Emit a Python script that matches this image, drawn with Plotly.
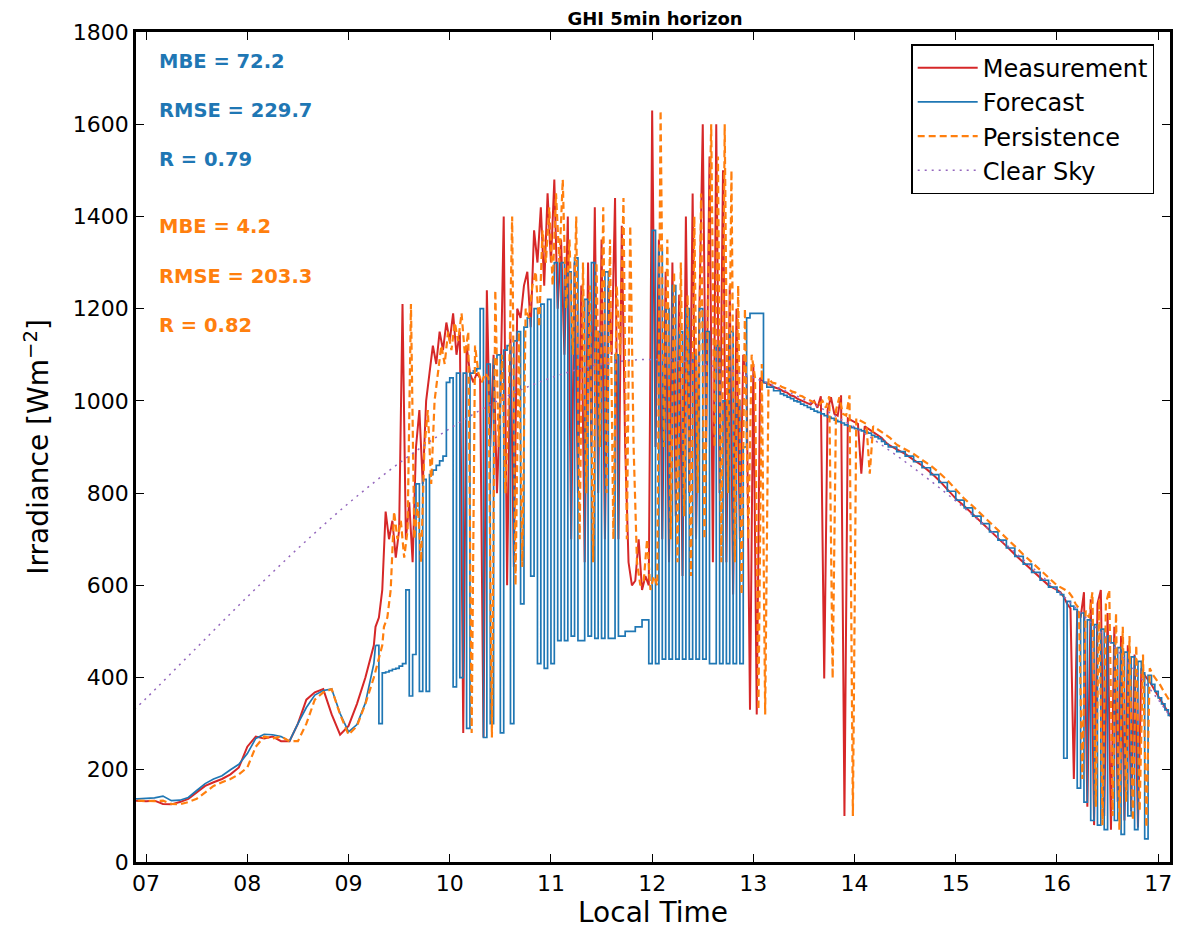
import pandas as pd
import plotly.graph_objects as go

DAY = "2017-06-20 "

# ---------------- time grids (segment start, end, step) ----------------
seg_am = pd.date_range(DAY + "06:50", DAY + "09:15", freq="5min")
seg_cloud = pd.date_range(DAY + "09:16", DAY + "13:06", freq="2min")
seg_pm1 = pd.date_range(DAY + "13:08", DAY + "14:20", freq="2min")
seg_pm2 = pd.date_range(DAY + "14:25", DAY + "16:00", freq="5min")
seg_late = pd.date_range(DAY + "16:02", DAY + "17:10", freq="2min")

# ---------------- measurement (W/m2) ----------------
meas_am = [133, 132, 132, 133, 126, 125, 130, 137, 150, 165,
           173, 180, 190, 205, 250, 272, 268, 272, 262, 262,
           300, 352, 368, 375, 320, 276, 295, 343, 400, 470]
meas_cloud = [510, 530, 590, 760, 700, 740, 660, 720, 1210, 700,
              780, 650, 900, 980, 820, 1000, 1060, 1120, 1080, 1150,
              1110, 1170, 1130, 1190, 1100, 1150, 280, 1120, 1060, 1040,
              1060, 1050, 270, 1240, 900, 1100, 800, 1000, 1400, 600,
              1150, 640, 1200, 1180, 1250, 1280, 1160, 1370, 1300, 1420,
              1250, 1450, 1300, 1480, 1200, 1350, 1100, 1400, 700, 1300,
              800, 1250, 650, 1300, 900, 1420, 800, 1350, 700, 1250,
              1100, 1440, 700, 1380, 900, 650, 600, 610, 700, 590,
              620, 600, 1630, 900, 1350, 700, 1280, 650, 1300, 750,
              1230, 620, 1400, 800, 1450, 700, 1200, 1600, 900, 1530,
              650, 1600, 800, 1500, 650, 1250, 580, 1200, 700, 1100,
              1050, 330, 1080, 320, 1050, 1040]
meas_pm1 = [1038, 1035, 1030, 1028, 1025, 1020, 1018, 1012, 1010, 1005,
            1002, 998, 995, 992, 1000, 985, 1010, 398, 980, 1008,
            972, 968, 1012, 100, 962, 958, 955, 950, 842, 945,
            940, 935, 930, 925, 920, 912, 905]
meas_pm2 = [895, 885, 872, 860, 845, 828, 808, 788, 772, 755,
            738, 720, 702, 685, 667, 650, 632, 615, 600, 590]
meas_late = [585, 575, 560, 550, 180, 545, 530, 585, 120, 570,
             80, 560, 590, 100, 540, 70, 510, 130, 490, 90,
             470, 110, 450, 75, 420, 405, 395, 385, 372, 360,
             348, 335, 322, 312, 300]

# ---------------- forecast (W/m2) ----------------
fc_am = [138, 137, 138, 139, 143, 133, 134, 140, 155, 170,
         180, 187, 200, 212, 235, 268, 277, 276, 272, 262,
         300, 335, 362, 372, 375, 322, 282, 298, 345, 430]
fc_cloud = [470, 300, 410, 412, 415, 418, 420, 425, 430, 590,
            360, 450, 820, 370, 830, 370, 840, 850, 860, 870,
            880, 1040, 1050, 380, 1060, 400, 1060, 290, 1060, 1065,
            1070, 1200, 270, 1080, 300, 1090, 1100, 280, 1110, 1120,
            300, 1130, 1150, 560, 1160, 1180, 620, 1200, 430, 1210,
            420, 1220, 430, 1300, 480, 1300, 480, 1280, 490, 1310,
            480, 480, 1220, 490, 1300, 485, 1150, 485, 1280, 485,
            485, 1100, 490, 490, 500, 500, 500, 510, 510, 525,
            525, 430, 1370, 430, 1330, 440, 1200, 440, 1250, 440,
            1150, 440, 1200, 440, 1100, 440, 1200, 440, 1150, 430,
            430, 1120, 430, 1000, 430, 1150, 430, 1000, 430, 900,
            1180, 1190, 1190, 1190, 1190, 1040]
fc_pm1 = [1030, 1030, 1022, 1022, 1015, 1012, 1008, 1005, 1000, 998,
          993, 990, 986, 982, 978, 975, 972, 968, 965, 962,
          958, 955, 952, 948, 945, 942, 940, 938, 935, 932,
          930, 925, 922, 918, 912, 906, 900]
fc_pm2 = [890, 880, 868, 855, 840, 823, 804, 785, 768, 750,
          734, 716, 698, 681, 663, 646, 628, 611, 596, 585]
fc_late = [580, 225, 565, 555, 548, 160, 540, 130, 525, 90,
           515, 80, 505, 70, 490, 475, 90, 465, 60, 455,
           100, 445, 70, 435, 410, 50, 405, 385, 370, 356,
           343, 330, 318, 308, 298]

# ---------------- clear sky (W/m2) ----------------
cs_times = ["06:50", "07:00", "07:30", "08:00", "08:30", "09:00", "09:30", "10:00",
            "10:30", "11:00", "11:30", "12:00", "12:30", "13:00", "13:30", "14:00",
            "14:30", "15:00", "15:30", "16:00", "16:30", "16:45", "17:00", "17:10"]
cs_vals = [320, 355, 465, 575, 680, 778, 865, 940,
           1003, 1050, 1080, 1090, 1080, 1050, 1003, 943,
           868, 783, 688, 590, 482, 420, 352, 300]

# ---------------- statistics text ----------------
fc_stats = ["MBE = 72.2", "RMSE = 229.7", "R = 0.79"]
pe_stats = ["MBE = 4.2", "RMSE = 203.3", "R = 0.82"]

HORIZON = pd.Timedelta(minutes=5)

t_all = seg_am.append([seg_cloud, seg_pm1, seg_pm2, seg_late])
meas = meas_am + meas_cloud + meas_pm1 + meas_pm2 + meas_late
t_pers = t_all + HORIZON
cs_t = [pd.Timestamp(DAY + s) for s in cs_times]

# forecast: smooth morning part (linear) + stepped remainder (hv)
t_fc_am = seg_am.append(seg_cloud[:1])
v_fc_am = fc_am + fc_cloud[:1]
t_fc_rest = seg_cloud.append([seg_pm1, seg_pm2, seg_late])
v_fc_rest = fc_cloud + fc_pm1 + fc_pm2 + fc_late

RED = "#d62728"
BLUE = "#1f77b4"
ORANGE = "#ff7f0e"
PURPLE = "#9467bd"
FONT = "DejaVu Sans"

fig = go.Figure()
fig.add_trace(go.Scatter(x=t_all, y=meas, mode="lines", name="Measurement",
                         line=dict(color=RED, width=2)))
fig.add_trace(go.Scatter(x=t_fc_am, y=v_fc_am, mode="lines", name="Forecast",
                         legendgroup="fc", line=dict(color=BLUE, width=1.7)))
fig.add_trace(go.Scatter(x=t_fc_rest, y=v_fc_rest, mode="lines", name="Forecast",
                         legendgroup="fc", showlegend=False,
                         line=dict(color=BLUE, width=1.7, shape="hv")))
fig.add_trace(go.Scatter(x=t_pers, y=meas, mode="lines", name="Persistence",
                         line=dict(color=ORANGE, width=2.2, dash="7px,4px")))
fig.add_trace(go.Scatter(x=cs_t, y=cs_vals, mode="lines", name="Clear Sky",
                         line=dict(color=PURPLE, width=1.5, dash="2px,5px", shape="spline")))

ys_fc = [0.964, 0.905, 0.846]
ys_pe = [0.766, 0.706, 0.646]
for txt, yy in zip(fc_stats, ys_fc):
    fig.add_annotation(text="<b>%s</b>" % txt, xref="paper", yref="paper", x=0.02, y=yy,
                       xanchor="left", yanchor="middle", showarrow=False,
                       font=dict(family=FONT, size=19.5, color=BLUE))
for txt, yy in zip(pe_stats, ys_pe):
    fig.add_annotation(text="<b>%s</b>" % txt, xref="paper", yref="paper", x=0.02, y=yy,
                       xanchor="left", yanchor="middle", showarrow=False,
                       font=dict(family=FONT, size=19.5, color=ORANGE))

axis_common = dict(showline=True, linewidth=2.8, linecolor="black", mirror="allticks",
                   ticks="inside", ticklen=8, tickwidth=1, tickcolor="black",
                   showgrid=False, zeroline=False, automargin=False,
                   tickfont=dict(family=FONT, size=22, color="black"))

fig.update_xaxes(type="date", range=[DAY + "06:54", DAY + "17:07"],
                 tick0=DAY + "07:00", dtick=3600000, tickformat="%H",
                 title=dict(text="Local Time", font=dict(family=FONT, size=28, color="black"),
                            standoff=4),
                 **axis_common)
fig.update_yaxes(range=[0, 1800], dtick=200,
                 title=dict(text="Irradiance [Wm<sup>−2</sup>]",
                            font=dict(family=FONT, size=28, color="black"), standoff=16),
                 **axis_common)

# page body has an 8px margin: the figure is sized to fit inside the window
fig.update_layout(
    width=1173, height=921,
    margin=dict(l=128, r=11, t=24, b=67),
    plot_bgcolor="white", paper_bgcolor="white",
    title=dict(text="<b>GHI 5min horizon</b>", xref="paper", x=0.502, xanchor="center",
               y=0.995, yanchor="top", font=dict(family=FONT, size=18, color="black")),
    legend=dict(x=0.985, y=0.985, xanchor="right", yanchor="top", tracegroupgap=0,
                bordercolor="black", borderwidth=1.2, bgcolor="white", itemwidth=60,
                font=dict(family=FONT, size=24, color="black")),
    showlegend=True,
)

fig.write_html("out.html")
